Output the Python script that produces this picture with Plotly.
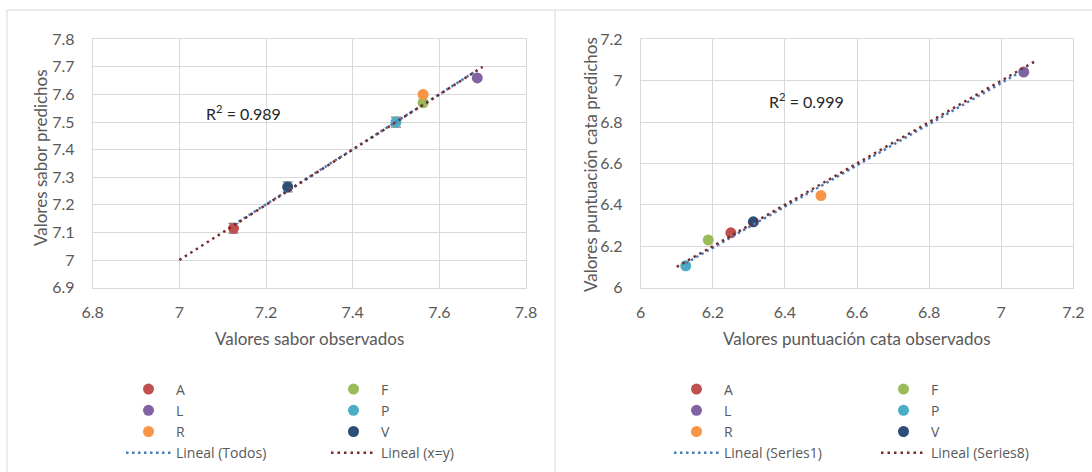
import plotly.graph_objects as go

# ---------------- data ----------------
groups = ["A", "F", "L", "P", "R", "V"]
group_colors = ["#C0504D", "#9BBB59", "#8064A2", "#4BACC6", "#F79646", "#2C4D75"]

sabor_obs = [7.125, 7.5625, 7.6875, 7.5, 7.5625, 7.25]
sabor_pred = [7.115, 7.57, 7.66, 7.50, 7.60, 7.265]
sabor_err = [0.018, 0.0, 0.0, 0.018, 0.0, 0.018]
sabor_trend_x = [7.125, 7.6875]
sabor_trend_y = [7.127, 7.688]
sabor_identity = [7.0, 7.7]

cata_obs = [6.25, 6.1875, 7.0625, 6.125, 6.5, 6.3125]
cata_pred = [6.265, 6.23, 7.042, 6.105, 6.445, 6.318]
cata_trend_x = [6.125, 7.0625]
cata_trend_y = [6.118, 7.051]
cata_identity = [6.1, 7.1]

sabor_r2 = "0.989"
cata_r2 = "0.999"

left_lines = ["Lineal (Todos)", "Lineal (x=y)"]
right_lines = ["Lineal (Series1)", "Lineal (Series8)"]

# ---------------- helpers ----------------
W, H = 1092, 472
FONT = "Lato, 'Open Sans', sans-serif"
LEG_FONT = "'Open Sans', Lato, sans-serif"
GRAY = "#595959"
GRID = "#D9D9D9"


def px_x(v):
    return v / W


def px_y(v):
    return 1 - v / H


# legend column of each group: A,L,R -> col 1 ; F,P,V -> col 2
col_of = {"A": 0, "L": 0, "R": 0, "F": 1, "P": 1, "V": 1}

fig = go.Figure()


def add_panel(obs, pred, err, trend_x, trend_y, identity, xa, ya, legends, line_names):
    errs = err if err else [0.0] * len(groups)
    for g, c, xo, yp, e in zip(groups, group_colors, obs, pred, errs):
        tr = dict(
            x=[xo], y=[yp], mode="markers", name=g,
            marker=dict(color=c, size=11, line=dict(width=0)),
            xaxis=xa, yaxis=ya, legend=legends[col_of[g]], showlegend=True,
        )
        if e > 0:
            tr["error_y"] = dict(type="data", array=[e], color="#7F7F7F", thickness=1.2, width=5)
        fig.add_trace(go.Scatter(**tr))
    fig.add_trace(go.Scatter(
        x=trend_x, y=trend_y, mode="lines", name=line_names[0],
        line=dict(color="#4A7EBB", width=2.5, dash="2.5px,3.5px"),
        xaxis=xa, yaxis=ya, legend=legends[0],
    ))
    fig.add_trace(go.Scatter(
        x=identity, y=identity, mode="lines", name=line_names[1],
        line=dict(color="#772C2A", width=2.5, dash="2.5px,4px"),
        xaxis=xa, yaxis=ya, legend=legends[1],
    ))


add_panel(sabor_obs, sabor_pred, sabor_err, sabor_trend_x, sabor_trend_y, sabor_identity,
          "x", "y", ["legend", "legend2"], left_lines)
add_panel(cata_obs, cata_pred, None, cata_trend_x, cata_trend_y, cata_identity,
          "x2", "y2", ["legend3", "legend4"], right_lines)

axis_common = dict(
    showgrid=True, gridcolor=GRID, gridwidth=1,
    showline=True, linecolor=GRID, linewidth=1, mirror=True,
    zeroline=False, ticks="", automargin=False,
    tickfont=dict(family=FONT, size=16, color=GRAY),
)

fig.update_layout(
    width=W, height=H,
    margin=dict(l=0, r=0, t=0, b=0, pad=0, autoexpand=False),
    paper_bgcolor="white", plot_bgcolor="white",
    font=dict(family=FONT, color=GRAY),
    xaxis=dict(domain=[px_x(92.7), px_x(526)], range=[6.8, 7.8], dtick=0.2, tick0=6.8,
               anchor="y", ticklabelstandoff=10, **axis_common),
    yaxis=dict(domain=[px_y(287.6), px_y(39.3)], range=[6.9, 7.8], dtick=0.1, tick0=6.9,
               anchor="x", ticklabelstandoff=14, **axis_common),
    xaxis2=dict(domain=[px_x(640.7), px_x(1073.3)], range=[6.0, 7.2], dtick=0.2, tick0=6.0,
                anchor="y2", ticklabelstandoff=10, **axis_common),
    yaxis2=dict(domain=[px_y(287.6), px_y(39.3)], range=[6.0, 7.2], dtick=0.2, tick0=6.0,
                anchor="x2", ticklabelstandoff=14, **axis_common),
    showlegend=True,
)

legend_common = dict(
    orientation="v", xanchor="left", yanchor="top",
    bgcolor="rgba(0,0,0,0)", borderwidth=0,
    font=dict(family=LEG_FONT, size=14, color=GRAY),
    itemwidth=45, tracegroupgap=0, traceorder="normal",
)
fig.update_layout(
    legend=dict(x=px_x(121), y=px_y(373.5), **legend_common),
    legend2=dict(x=px_x(326), y=px_y(373.5), **legend_common),
    legend3=dict(x=px_x(669), y=px_y(373.5), **legend_common),
    legend4=dict(x=px_x(876), y=px_y(373.5), **legend_common),
)

# axis titles and R2 labels
ann = []
title_font = dict(family=FONT, size=17, color=GRAY)
ann.append(dict(text="Valores sabor observados", x=px_x(309.4), y=px_y(338), xref="paper", yref="paper",
                showarrow=False, font=title_font, xanchor="center", yanchor="middle"))
ann.append(dict(text="Valores puntuación cata observados", x=px_x(857), y=px_y(338), xref="paper", yref="paper",
                showarrow=False, font=title_font, xanchor="center", yanchor="middle"))
ann.append(dict(text="Valores sabor predichos", x=px_x(40), y=px_y(158), xref="paper", yref="paper",
                showarrow=False, font=title_font, textangle=-90, xanchor="center", yanchor="middle"))
ann.append(dict(text="Valores puntuación cata predichos", x=px_x(590), y=px_y(165), xref="paper", yref="paper",
                showarrow=False, font=title_font, textangle=-90, xanchor="center", yanchor="middle"))
r2_font = dict(family=FONT, size=16, color="#262626")
ann.append(dict(text="R<sup>2</sup> = " + sabor_r2, x=7.058, y=7.535, xref="x", yref="y",
                showarrow=False, font=r2_font, xanchor="left", yanchor="middle"))
ann.append(dict(text="R<sup>2</sup> = " + cata_r2, x=6.35, y=6.905, xref="x2", yref="y2",
                showarrow=False, font=r2_font, xanchor="left", yanchor="middle"))
fig.update_layout(annotations=ann)

# chart frame borders
border = dict(color=GRID, width=1)
fig.update_layout(shapes=[
    dict(type="line", xref="paper", yref="paper", x0=px_x(7), x1=1.01, y0=px_y(10), y1=px_y(10), line=border),
    dict(type="line", xref="paper", yref="paper", x0=px_x(7), x1=px_x(7), y0=px_y(10), y1=-0.05, line=border),
    dict(type="line", xref="paper", yref="paper", x0=px_x(555), x1=px_x(555), y0=px_y(10), y1=-0.05, line=border),
])

fig.write_html("out.html")
